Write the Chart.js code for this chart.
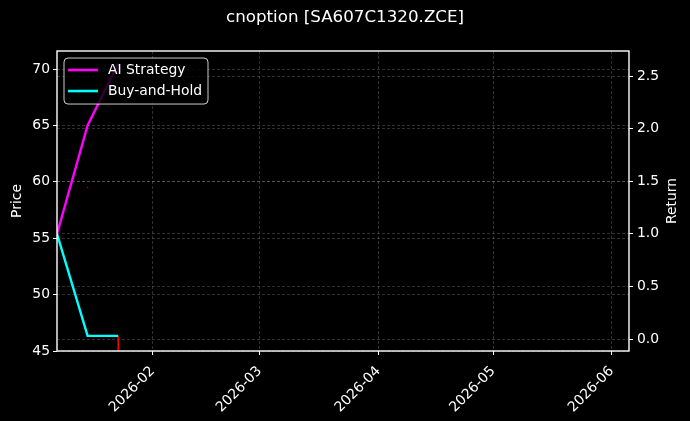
<!DOCTYPE html>
<html>
<head>
<meta charset="utf-8">
<script src="https://cdn.jsdelivr.net/npm/chart.js@4.4.1/dist/chart.umd.min.js"></script>
<style>
  html, body { margin: 0; padding: 0; background: #000; }
  canvas { display: block; }
</style>
</head>
<body>
<canvas id="priceChart" width="690" height="421"></canvas>
<script>
// returns (right axis)
const dates = ["2026-01-07", "2026-01-15", "2026-01-23"];
const aiStrategy = [1.0, 2.03, 2.62];
const buyAndHold = [1.0, 0.03, 0.03];

// price (left axis), null = gap in the line
const priceDates = ["2026-01-15", "2026-01-19", "2026-01-23", "2026-01-23"];
const price = [59.5, null, 46.3, 44.0];

const monthTicks = ["2026-02-01", "2026-03-01", "2026-04-01", "2026-05-01", "2026-06-01"];
const monthLabels = ["2026-02", "2026-03", "2026-04", "2026-05", "2026-06"];
const priceTicks = [45, 50, 55, 60, 65, 70];
const returnTicks = [0, 0.5, 1, 1.5, 2, 2.5];

const FONT = "DejaVu Sans";
const ts = (s) => Date.parse(s + "T00:00:00Z");
const toPoints = (xs, ys) => xs.map((d, i) => ({ x: ts(d), y: ys[i] }));

Chart.defaults.font.family = FONT;
Chart.defaults.color = "#fff";

const gridColor = "rgba(176,176,176,0.35)";

function fixSize(prop, size) {
  return (scale) => {
    scale[prop] = size;
    scale.paddingLeft = 0;
    scale.paddingRight = 0;
    scale.paddingTop = 0;
    scale.paddingBottom = 0;
  };
}

const decorations = {
  id: "decorations",
  afterDatasetsDraw(chart) {
    const { ctx, chartArea: a } = chart;
    ctx.save();
    // spines
    ctx.strokeStyle = "#fff";
    ctx.lineWidth = 1.4;
    ctx.strokeRect(Math.round(a.left), Math.round(a.top),
      Math.round(a.right - a.left), Math.round(a.bottom - a.top));

    // legend
    const items = chart.data.datasets.filter(d => d.inLegend);
    const bx = a.left + 7, by = a.top + 7, bw = 144, bh = 46;
    ctx.beginPath();
    ctx.roundRect(bx, by, bw, bh, 4);
    ctx.fillStyle = "rgba(0,0,0,0.8)";
    ctx.fill();
    ctx.strokeStyle = "rgba(255,255,255,0.8)";
    ctx.lineWidth = 1;
    ctx.stroke();
    ctx.font = "13.9px '" + FONT + "'";
    ctx.textBaseline = "middle";
    ctx.textAlign = "left";
    items.forEach((d, i) => {
      const y = by + 12 + i * 21;
      ctx.strokeStyle = d.borderColor;
      ctx.lineWidth = 2.6;
      ctx.beginPath();
      ctx.moveTo(bx + 4, y);
      ctx.lineTo(bx + 34, y);
      ctx.stroke();
      ctx.fillStyle = "#fff";
      ctx.fillText(d.label, bx + 44, y);
    });
    ctx.restore();
  },
  afterDraw(chart) {
    const { ctx, chartArea: a } = chart;
    const midY = (a.top + a.bottom) / 2;
    ctx.save();
    ctx.fillStyle = "#fff";
    ctx.font = "13.9px '" + FONT + "'";
    ctx.textAlign = "center";
    ctx.textBaseline = "middle";
    [["Price", 17], ["Return", 672]].forEach(([txt, x]) => {
      ctx.save();
      ctx.translate(x, midY);
      ctx.rotate(-Math.PI / 2);
      ctx.fillText(txt, 0, 0);
      ctx.restore();
    });
    ctx.restore();
  }
};

const canvas = document.getElementById("priceChart");

new Chart(canvas, {
  type: "line",
  data: {
    datasets: [
      {
        label: "AI Strategy",
        inLegend: true,
        data: toPoints(dates, aiStrategy),
        yAxisID: "y1",
        borderColor: "#ff00ff",
        borderWidth: 2.4,
        pointRadius: 0,
        tension: 0
      },
      {
        label: "Buy-and-Hold",
        inLegend: true,
        data: toPoints(dates, buyAndHold),
        yAxisID: "y1",
        borderColor: "#00ffff",
        borderWidth: 2.4,
        pointRadius: 0,
        tension: 0
      },
      {
        label: "Price",
        data: toPoints(priceDates, price),
        yAxisID: "y",
        borderColor: "#ff0000",
        borderWidth: 1.5,
        pointRadius: [1, 0, 0, 0],
        pointBorderWidth: 0,
        pointBackgroundColor: "rgba(255,0,0,0.5)",
        spanGaps: false,
        tension: 0
      }
    ]
  },
  options: {
    responsive: false,
    animation: false,
    layout: { padding: 0 },
    plugins: {
      legend: { display: false },
      tooltip: { enabled: false },
      title: {
        display: true,
        text: "cnoption [SA607C1320.ZCE]",
        color: "#fff",
        font: { size: 16.7, weight: "normal", family: FONT },
        padding: { top: 8, bottom: 23 }
      }
    },
    scales: {
      x: {
        type: "linear",
        min: ts("2026-01-07"),
        max: ts("2026-06-05") + 12 * 3600 * 1000,
        afterBuildTicks: (scale) => {
          scale.ticks = monthTicks.map(d => ({ value: ts(d) }));
        },
        afterFit: fixSize("height", 70),
        ticks: {
          autoSkip: false,
          minRotation: 45,
          maxRotation: 45,
          padding: 8,
          color: "#fff",
          font: { size: 13.9 },
          callback: (value, index) => monthLabels[index]
        },
        grid: {
          color: gridColor,
          lineWidth: 0.8,
          tickColor: "#fff",
          tickLength: 4,
          tickWidth: 1,
          tickBorderDash: []
        },
        border: { display: false, dash: [3, 2] }
      },
      y: {
        position: "left",
        min: 45,
        max: 71.6,
        afterBuildTicks: (scale) => {
          scale.ticks = priceTicks.map(v => ({ value: v }));
        },
        afterFit: fixSize("width", 57),
        ticks: {
          padding: 3,
          color: "#fff",
          font: { size: 13.9 },
          callback: (value) => String(value)
        },
        grid: {
          color: gridColor,
          lineWidth: 0.8,
          tickColor: "#fff",
          tickLength: 4,
          tickWidth: 1,
          tickBorderDash: []
        },
        border: { display: false, dash: [3, 2] }
      },
      y1: {
        position: "right",
        min: -0.114,
        max: 2.738,
        afterBuildTicks: (scale) => {
          scale.ticks = returnTicks.map(v => ({ value: v }));
        },
        afterFit: fixSize("width", 61),
        ticks: {
          padding: 4,
          color: "#fff",
          font: { size: 13.9 },
          callback: (value) => Number(value).toFixed(1)
        },
        grid: {
          color: gridColor,
          lineWidth: 0.8,
          tickColor: "#fff",
          tickLength: 4,
          tickWidth: 1,
          tickBorderDash: []
        },
        border: { display: false, dash: [3, 2] }
      }
    }
  },
  plugins: [decorations]
});
</script>
</body>
</html>
